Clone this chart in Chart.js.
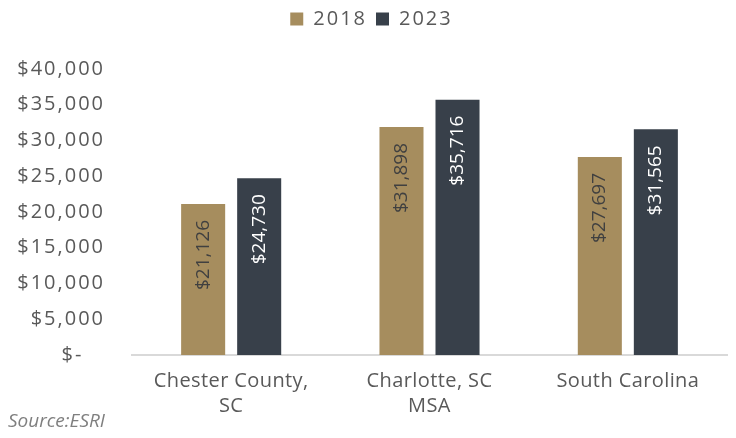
<!DOCTYPE html>
<html>
<head>
<meta charset="utf-8">
<script src="https://cdn.jsdelivr.net/npm/chart.js@4"></script>
<style>
html,body{margin:0;padding:0;background:#fff;}
#wrap{position:relative;width:736px;height:438px;}
#src{position:absolute;left:8px;top:407px;font-family:"Open Sans",sans-serif;font-style:italic;font-size:19px;color:#7f7f7f;letter-spacing:0px;}
</style>
</head>
<body>
<div id="wrap">
<canvas id="c" width="736" height="438"></canvas>
<div id="src">Source:ESRI</div>
</div>
<script>
const categories = [["Chester County,", "SC"], ["Charlotte, SC", "MSA"], "South Carolina"];
const values2018 = [21126, 31898, 27697];
const values2023 = [24730, 35716, 31565];
const seriesNames = ["2018", "2023"];
const yTicks = [0, 5000, 10000, 15000, 20000, 25000, 30000, 35000, 40000];

const FONT = "'Open Sans', sans-serif";
const fmt = v => v === 0 ? "$-   " : "$" + v.toLocaleString("en-US");

const spacing = {
  id: "spacing",
  beforeDraw(chart) {
    chart.ctx.letterSpacing = "2px";
    const x = chart.scales.x;
    if (x && !x._wrapped) {
      const orig = x.drawLabels;
      x.drawLabels = function (a) {
        const c = this.ctx, prev = c.letterSpacing;
        c.letterSpacing = "0.4px";
        orig.call(this, a);
        c.letterSpacing = prev;
      };
      x._wrapped = true;
    }
  },
  beforeDatasetsDraw(chart) { chart.ctx.letterSpacing = "0px"; }
};

const barLabels = {
  id: "barLabels",
  afterDatasetsDraw(chart) {
    const ctx = chart.ctx;
    const colors = ["#404040", "#ffffff"];
    chart.data.datasets.forEach((ds, i) => {
      const meta = chart.getDatasetMeta(i);
      meta.data.forEach((bar, j) => {
        ctx.save();
        ctx.translate(bar.x, bar.y + 16);
        ctx.rotate(-Math.PI / 2);
        ctx.textAlign = "right";
        ctx.textBaseline = "middle";
        ctx.font = "19px " + FONT;
        ctx.fillStyle = colors[i];
        ctx.fillText(fmt(ds.data[j]), 0, 0);
        ctx.restore();
      });
    });
  }
};

const legendPad = {
  id: "legendPad",
  beforeInit(chart) {
    const orig = chart.legend.fit;
    chart.legend.fit = function () {
      orig.call(this);
      this.height = 69;
    };
  }
};

new Chart(document.getElementById("c"), {
  type: "bar",
  data: {
    labels: categories,
    datasets: [
      { label: seriesNames[0], data: values2018, backgroundColor: "#A68D5E" },
      { label: seriesNames[1], data: values2023, backgroundColor: "#38404A" }
    ]
  },
  plugins: [spacing, barLabels, legendPad],
  options: {
    responsive: false,
    animation: false,
    layout: { padding: { left: 0, right: 9, top: 0, bottom: 0 } },
    datasets: { bar: { categoryPercentage: 0.565, barPercentage: 0.786 } },
    plugins: {
      legend: {
        position: "top",
        labels: {
          boxWidth: 13, boxHeight: 13, padding: 9,
          color: "#595959",
          font: { family: FONT, size: 20 }
        }
      },
      tooltip: { enabled: false }
    },
    scales: {
      x: {
        grid: { display: false, drawTicks: false },
        border: { display: true, color: "#d9d9d9", width: 2 },
        ticks: { color: "#595959", font: { family: FONT, size: 20, lineHeight: 1.25 }, padding: 14, maxRotation: 0, autoSkip: false },
        afterFit(s) { s.height = 83; }
      },
      y: {
        min: 0, max: 40000,
        afterBuildTicks(s) { s.ticks = yTicks.map(v => ({ value: v })); },
        grid: { display: false, drawTicks: false },
        border: { display: false },
        ticks: { color: "#595959", font: { family: FONT, size: 20 }, padding: 27, callback: v => fmt(v) },
        afterFit(s) { s.width = 132; }
      }
    }
  }
});
</script>
</body>
</html>
